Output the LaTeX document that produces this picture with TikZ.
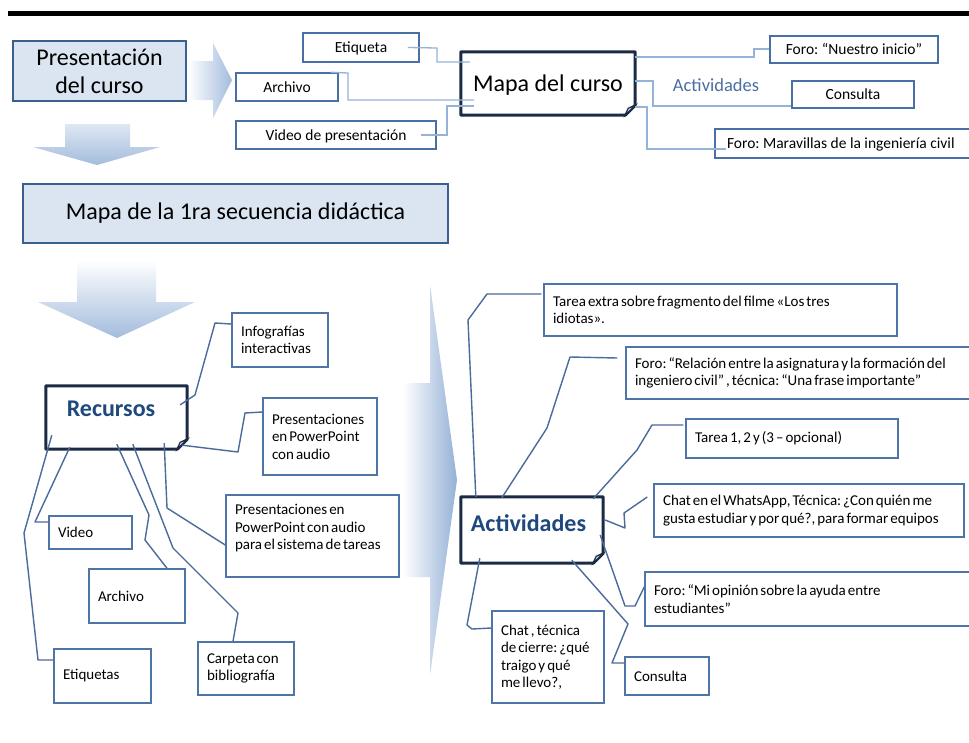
\documentclass[tikz,border=0pt]{standalone}
\usepackage{fontspec}
\setmainfont{Carlito}
\newfontfamily\tightfont{Carlito}[WordSpace=0.6]
\usetikzlibrary{calc}
\hyphenpenalty=10000
\exhyphenpenalty=10000

\definecolor{bigfill}{HTML}{DBE5F1}
\definecolor{bigline}{HTML}{3B5F8E}
\definecolor{navy}{HTML}{1C2B44}
\definecolor{topbox}{HTML}{4A6FA5}
\definecolor{topconn}{HTML}{95B3D7}
\definecolor{lowbox}{HTML}{4F74A8}
\definecolor{lowconn}{HTML}{4A6B9C}
\definecolor{headblue}{HTML}{1F497D}
\definecolor{labelblue}{HTML}{4A6FA5}
\definecolor{arrowblue}{HTML}{A3BCDD}
\definecolor{arrowdeep}{HTML}{94B1D6}
\definecolor{foldfill}{HTML}{C6D3E4}

% outline of a box with a folded bottom-right corner
\newcommand\foldoutline[1]{%
  \draw[draw=navy, line width=3pt, line join=round]
    (#1.north west) -- (#1.north east) -- ([yshift=10pt]#1.south east)
    -- ([xshift=-10pt]#1.south east) -- (#1.south west) -- cycle;
  \filldraw[draw=navy, line width=1.2pt, fill=foldfill]
    ([yshift=10pt]#1.south east) -- ([xshift=-10pt]#1.south east)
    .. controls ([xshift=-8pt,yshift=5pt]#1.south east) .. ([xshift=-7pt,yshift=7pt]#1.south east) -- cycle;}

\tikzset{
  bigbox/.style={draw=bigline, line width=2.2pt, fill=bigfill, align=center,
    inner sep=0pt, font=\fontsize{24}{28}\selectfont},
  foldbox/.style={fill=white, inner sep=0pt, align=center},
  tbox/.style={draw=topbox, line width=1.5pt, fill=white, inner sep=0pt,
    align=center, text height=11.5pt, text depth=1.5pt,
    font=\fontsize{15.5}{18}\selectfont},
  tlbox/.style={tbox, align=flush left, inner xsep=12pt},
  lbox/.style={draw=lowbox, line width=1.5pt, fill=white, inner xsep=9pt,
    inner ysep=0pt, align=flush left, font=\tightfont\fontsize{15}{17.5}\selectfont},
  tconn/.style={draw=topconn, line width=1.3pt},
  lconn/.style={draw=lowconn, line width=1.4pt, line join=round},
}

\begin{document}
\frenchspacing
\begin{tikzpicture}[x=1pt, y=-1pt]
\useasboundingbox (0,0) rectangle (969,742);
\fill[white] (0,0) rectangle (969,742);

% heading rule
\fill[black] (8,11) rectangle (969,16);

% shaded block arrows
\shade[left color=white, right color=arrowblue]
  (188,61) -- (213,61) -- (213,43) -- (232,80) -- (213,118) -- (213,100) -- (188,100) -- cycle;
\shade[top color=arrowblue!35, bottom color=arrowblue]
  (65,124) -- (130,124) -- (130,147) -- (160,147) -- (97,165) -- (33,147) -- (65,147) -- cycle;
\shade[top color=white, bottom color=arrowblue]
  (77,260) -- (156,260) -- (156,302) -- (195,302) -- (117,338) -- (38,302) -- (77,302) -- cycle;
\shade[left color=white, right color=arrowdeep]
  (403,383) -- (430,383) -- (430,285) -- (457,480) -- (430,675) -- (430,577) -- (403,577) -- cycle;

% course overview
\node[bigbox, minimum width=173, minimum height=60] (pres) at (99.5,71) {Presentación\\del curso};
\node[tbox, minimum width=116, minimum height=29] (etq) at (361,47.5) {Etiqueta};
\node[tbox, minimum width=102, minimum height=28] (arch1) at (287,87) {Archivo};
\node[tbox, minimum width=200, minimum height=28] (vid1) at (336,135) {Video de presentación};
\node[foldbox, minimum width=174, minimum height=63, font=\fontsize{24}{28}\selectfont,
  text height=18pt, text depth=3pt] (mapa) at (548,83.5) {Mapa del curso};
\foldoutline{mapa}
\node[tbox, minimum width=168, minimum height=27] (foro1) at (854,49.5) {Foro: “Nuestro inicio”};
\node[font=\fontsize{18.5}{20}\selectfont, text=labelblue, inner sep=0pt] (actlbl) at (716,85) {Actividades};
\node[tbox, minimum width=122, minimum height=27] (cons1) at (853,94.5) {Consulta};
\node[tlbox, text width=261, minimum height=29] (marav) at (857.5,143.5) {Foro: Maravillas de la ingeniería civil};

\draw[tconn] (etq.east) ++(-12,0) -- (437,48) -- (437,62) -- ($(mapa.west |- 0,62)+(9,0)$);
\draw[tconn] (arch1.north east) ++(-8,0) -- (348,73) -- (348,100) -- ($(mapa.west |- 0,100)+(13,0)$);
\draw[tconn] (vid1.east) ++(-16,0) -- (447,135) -- (447,106) -- ($(mapa.west |- 0,106)+(13,0)$);
\draw[tconn] (mapa.east |- 0,57) -- (754,57) -- (754,49) -- (foro1.west |- 0,49);
\draw[tconn] (mapa.east |- 0,81) -- (653,81) -- (653,106) -- (cons1.west |- 0,106);
\draw[tconn] (mapa.east |- 0,107) -- (647,107) -- (647,149) -- ($(marav.west |- 0,149)+(12,0)$);

% first didactic sequence
\node[bigbox, minimum width=425, minimum height=59] (seq) at (235.5,213.5) {Mapa de la 1ra secuencia didáctica};

% resources
\node[foldbox, minimum width=141, minimum height=63, text=headblue,
  font=\bfseries\fontsize{24}{28}\selectfont, text height=17pt, text depth=20pt]
  (rec) at (116.5,417.5) {Recursos\hspace*{11pt}};
\foldoutline{rec}
\node[lbox, text width=78, minimum height=54] (info) at (280,340) {Infografías\\interactivas};
\node[lbox, text width=96, minimum height=77] (ppt1) at (320,436.5) {Presentaciones\\en PowerPoint\\con audio};
\node[lbox, text width=155, minimum height=82] (ppt2) at (312.5,536) {Presentaciones en\\PowerPoint con audio\\para el sistema de tareas\\\mbox{}};
\node[lbox, text width=65, minimum height=33] (video) at (90.5,532.5) {Video};
\node[lbox, text width=78, minimum height=54] (arch2) at (137,596) {Archivo};
\node[lbox, text width=79, minimum height=54] (etqs) at (102.5,676) {Etiquetas};
\node[lbox, text width=78, minimum height=53] (carp) at (246,668.5) {Carpeta con\\bibliografía};

\draw[lconn] (rec.north east) ++(-7,19) -- (195,395) -- (215,323) -- (info.west |- 0,324);
\draw[lconn] (rec.south east) ++(-5,-4) -- (238,452) -- (245,413) -- (ppt1.west |- 0,412);
\draw[lconn] (rec.south east) ++(-23,-6) -- (167,508) -- (ppt2.west |- 0,545);
\draw[lconn] (rec.south west) ++(24,-2) -- (35,522) -- (video.west |- 0,522);
\draw[lconn] (rec.south west) ++(6,-14) -- (24,533) -- (38,660) -- (etqs.west |- 0,660);
\draw[lconn] (rec.south west) ++(71,-5) -- (149,515) -- (145,540) -- (arch2.north -| 167,0);
\draw[lconn] (rec.south west) ++(87,-5) -- (173,548) -- (238,613) -- (carp.north -| 233,0);

% activities
\node[foldbox, minimum width=142, minimum height=66, text=headblue,
  font=\bfseries\fontsize{24}{28}\selectfont, text height=17pt, text depth=15pt]
  (act) at (532,530) {Actividades\hspace*{7pt}};
\foldoutline{act}
\node[lbox, text width=335, minimum height=52] (tex) at (720.5,310) {Tarea extra sobre fragmento del filme «Los tres\\idiotas».};
\node[lbox, text width=356, minimum height=52] (foro2) at (813,373) {Foro: “Relación entre la asignatura y la formación del\\ingeniero civil” , técnica: “Una frase importante”};
\node[lbox, text width=194, minimum height=39] (t12) at (792,438.5) {Tarea 1, 2 y (3 – opcional)};
\node[lbox, text width=292, minimum height=53] (wa) at (809,510.5) {Chat en el WhatsApp, Técnica: ¿Con quién me\\gusta estudiar y por qué?, para formar equipos};
\node[lbox, text width=337, minimum height=54] (foro3) at (822.5,599) {Foro: “Mi opinión sobre la ayuda entre\\estudiantes”};
\node[lbox, text width=94, minimum height=92] (chat) at (548,657) {Chat , técnica\\de cierre: ¿qué\\traigo y qué\\me llevo?,};
\node[lbox, text width=66, minimum height=38] (cons2) at (667,676) {Consulta};

\draw[lconn] (act.north west) ++(15,0) -- (468,320) -- (487,294) -- ($(tex.west |- 0,294)+(-2,0)$);
\draw[lconn] (act.north west) ++(41,1) -- (547,428) -- (570,357) -- ($(foro2.west |- 0,358)+(-8,0)$);
\draw[lconn] (act.north east) ++(-10,2) -- (637,450) -- (652,425) -- ($(t12.west |- 0,425)+(-2,0)$);
\draw[lconn] (act.east) ++(2,-10) -- (625,528) -- (624,513) -- ($(wa.west |- 0,497)+(-6,0)$);
\draw[lconn] (act.east) ++(-3,5) -- (625,606) -- (635,606) -- (foro3.west |- 0,587);
\draw[lconn] (act.south west) ++(111,-3) -- (628,624) -- (612,663) -- (cons2.west |- 0,663);
\draw[lconn] (act.south west) ++(19,-5) -- (467,625) -- (472,629) -- (chat.west |- 0,628);
\end{tikzpicture}
\end{document}
